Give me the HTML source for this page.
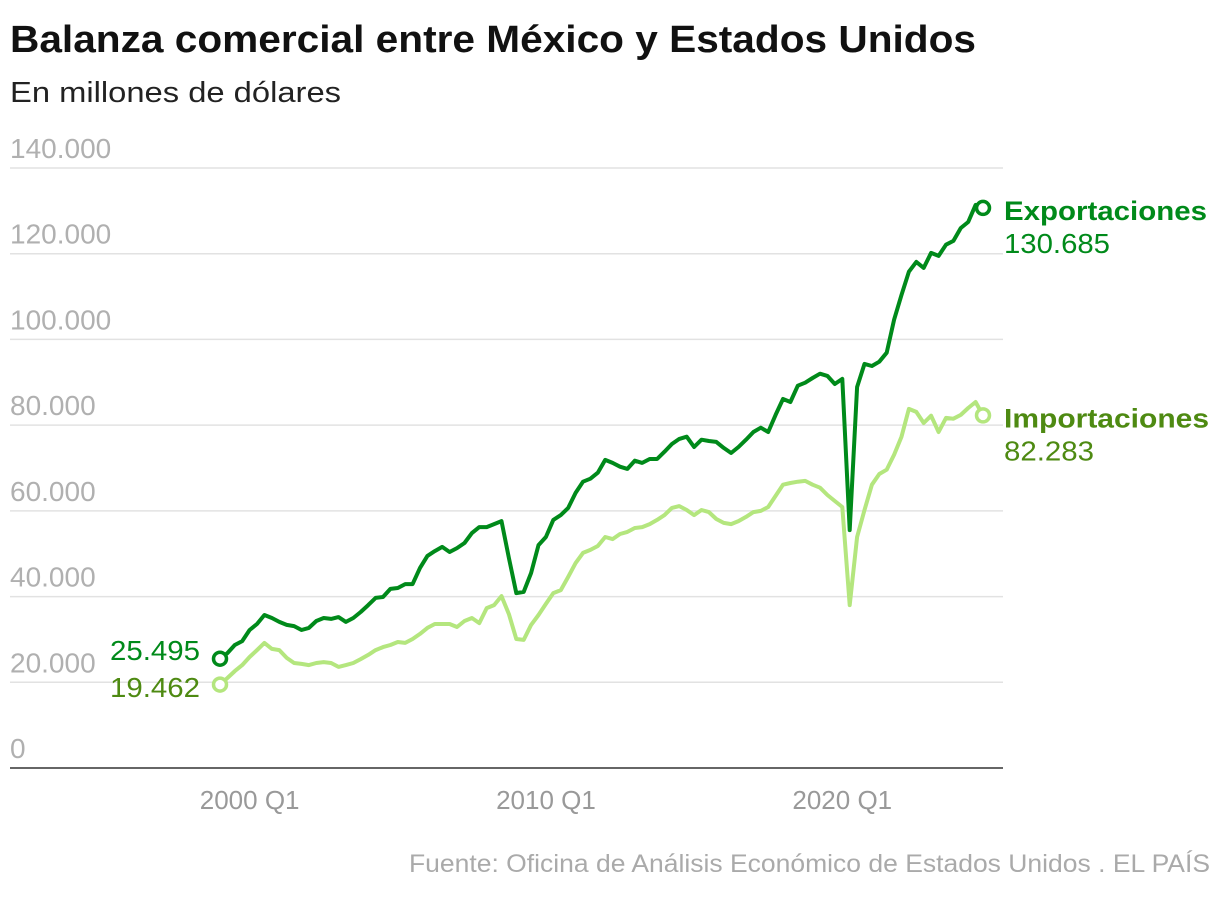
<!DOCTYPE html>
<html><head><meta charset="utf-8">
<style>
html,body{margin:0;padding:0;background:#fff;}
body{width:1220px;height:894px;overflow:hidden;font-family:"Liberation Sans",sans-serif;}
</style></head>
<body>
<svg id="chart" width="1220" height="894" xmlns="http://www.w3.org/2000/svg" font-family="Liberation Sans, sans-serif">
  <text x="10" y="52" font-size="38" font-weight="bold" fill="#111" textLength="966" lengthAdjust="spacingAndGlyphs">Balanza comercial entre México y Estados Unidos</text>
  <text x="10" y="102" font-size="29" fill="#222" textLength="331" lengthAdjust="spacingAndGlyphs">En millones de dólares</text>
  <g id="grid"></g>
  <g id="series"></g>
  <text x="1210" y="872" font-size="25" fill="#aaa" text-anchor="end" textLength="801" lengthAdjust="spacingAndGlyphs">Fuente: Oficina de Análisis Económico de Estados Unidos . EL PAÍS</text>
</svg>
<script>
const exportsVals = [25.5,26.8,28.7,29.6,32.2,33.6,35.7,35.0,34.1,33.4,33.1,32.2,32.7,34.3,35.0,34.8,35.2,34.1,35.0,36.4,38.0,39.7,39.9,41.8,42.0,42.9,42.9,46.7,49.5,50.6,51.6,50.4,51.3,52.5,54.8,56.2,56.2,56.9,57.6,49.0,40.8,41.1,45.5,52.0,53.9,57.9,59.0,60.7,64.2,66.8,67.5,68.9,71.9,71.2,70.3,69.8,71.7,71.2,72.1,72.1,73.8,75.6,76.8,77.3,74.9,76.6,76.3,76.1,74.7,73.5,74.9,76.6,78.4,79.4,78.4,82.4,86.1,85.4,89.2,89.9,91.0,92.0,91.5,89.6,90.8,55.5,88.9,94.3,93.8,94.8,96.9,104.6,110.4,115.8,118.1,116.7,120.2,119.5,122.1,123.0,126.0,127.4,131.4,130.685];
const importsVals = [19.462,21.0,22.6,24.0,25.9,27.5,29.2,27.8,27.5,25.7,24.5,24.3,24.0,24.5,24.7,24.5,23.6,24.0,24.5,25.4,26.4,27.5,28.2,28.7,29.4,29.2,30.1,31.3,32.7,33.6,33.6,33.6,32.9,34.3,35.0,33.8,37.3,38.0,40.1,35.9,30.1,29.9,33.4,35.7,38.3,40.8,41.5,44.6,47.8,50.2,50.9,51.8,53.9,53.4,54.6,55.1,56.0,56.2,56.9,57.9,59.0,60.7,61.1,60.2,59.0,60.2,59.7,58.1,57.2,56.9,57.6,58.6,59.7,60.0,60.9,63.5,66.1,66.5,66.8,67.0,66.1,65.4,63.7,62.3,60.9,38.0,53.9,60.2,66.1,68.6,69.6,73.1,77.3,83.8,83.1,80.5,82.2,78.4,81.7,81.5,82.4,84.0,85.4,82.283];
const yTicks = [0,20000,40000,60000,80000,100000,120000,140000];
const yTickLabels = ["0","20.000","40.000","60.000","80.000","100.000","120.000","140.000"];
const xTickIdx = [4,44,84];
const xTickLabels = ["2000 Q1","2010 Q1","2020 Q1"];

const NS="http://www.w3.org/2000/svg";
const y = v => 768 - v/140000*600;
const x = i => 220 + i*(763/103);
function mk(tag, attrs, parent, text){
  const e=document.createElementNS(NS,tag);
  for(const k in attrs) e.setAttribute(k,attrs[k]);
  if(text!==undefined) e.textContent=text;
  parent.appendChild(e); return e;
}
const grid=document.getElementById('grid');
yTicks.forEach((t,k)=>{
  if(t>0){
    const l=mk('line',{x1:10,x2:1003,y1:y(t),y2:y(t),stroke:'#e2e2e2','stroke-width':1.5},grid);
    
    
  }
  const tx=mk('text',{x:10,y:y(t)-10,'font-size':28,fill:'#b0b0b0'},grid,yTickLabels[k]);
  
  
});
const ax=mk('line',{x1:10,x2:1003,y1:768,y2:768,stroke:'#333','stroke-width':1.5},grid);


xTickIdx.forEach((i,k)=>{
  const tx=mk('text',{x:x(i),y:809,'font-size':26,fill:'#999','text-anchor':'middle'},grid,xTickLabels[k]);
  
  
});
const ser=document.getElementById('series');
function line(vals,scale,color,name){
  const d=vals.map((v,i)=>(i?'L':'M')+x(i).toFixed(1)+','+y(v*scale).toFixed(1)).join('');
  const p=mk('path',{d:d,fill:'none',stroke:color,'stroke-width':4,'stroke-linejoin':'round'},ser);
  
  
  [0,vals.length-1].forEach(i=>{
    const c=mk('circle',{cx:x(i),cy:y(vals[i]*scale),r:6.5,fill:'#fff',stroke:color,'stroke-width':3.5},ser);
    
    
  });
}
line(importsVals,1000,'#b4e67e','imports');
line(exportsVals,1000,'#008a1a','exports');
function lab(txt,xx,yy,opts,name){
  const t=mk('text',Object.assign({x:xx,y:yy},opts),ser,txt);
  
  
}
const eLast=exportsVals[exportsVals.length-1], iLast=importsVals[importsVals.length-1];
lab('Exportaciones',1004,y(eLast*1000)+12,{'font-size':27,'font-weight':'bold',fill:'#008a1a',textLength:203,lengthAdjust:'spacingAndGlyphs'},'exports-legend-label');
lab('130.685',1004,y(eLast*1000)+45,{'font-size':28,fill:'#008a1a',textLength:106,lengthAdjust:'spacingAndGlyphs'},'exports-last-value');
lab('Importaciones',1004,y(iLast*1000)+12,{'font-size':27,'font-weight':'bold',fill:'#4e8a12',textLength:205,lengthAdjust:'spacingAndGlyphs'},'imports-legend-label');
lab('82.283',1004,y(iLast*1000)+45,{'font-size':28,fill:'#4e8a12',textLength:90,lengthAdjust:'spacingAndGlyphs'},'imports-last-value');
lab('25.495',110,660,{'font-size':28,fill:'#008a1a',textLength:90,lengthAdjust:'spacingAndGlyphs'},'exports-first-value');
lab('19.462',110,697,{'font-size':28,fill:'#4e8a12',textLength:90,lengthAdjust:'spacingAndGlyphs'},'imports-first-value');
</script>
</body></html>
